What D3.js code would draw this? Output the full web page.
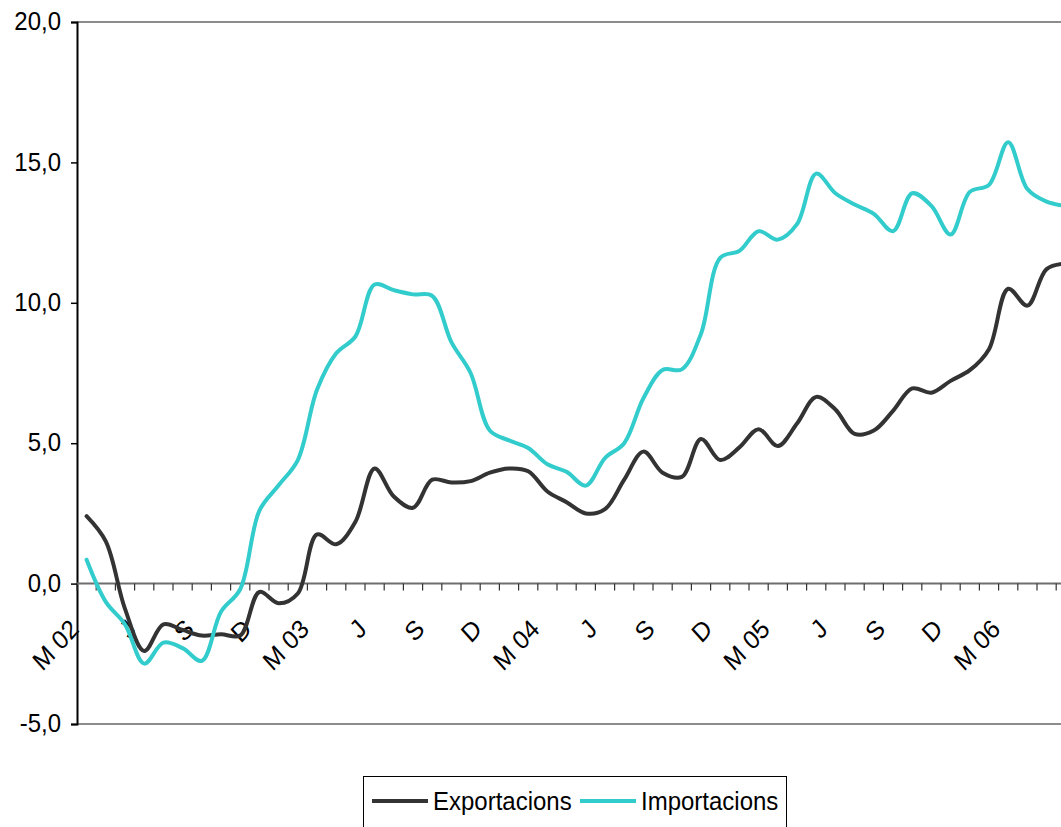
<!DOCTYPE html>
<html>
<head>
<meta charset="utf-8">
<script src="https://cdn.jsdelivr.net/npm/d3@7"></script>
<style>
  html, body { margin: 0; padding: 0; background: #fff; overflow: hidden; }
  svg { display: block; font-family: "Liberation Sans", Arial, sans-serif; }
</style>
</head>
<body>
<svg id="chart" width="1061" height="827"></svg>
<script>
// ---- data ----
const tickLabels = [
  "M 02","","","J","","","S","","","D","","",
  "M 03","","","J","","","S","","","D","","",
  "M 04","","","J","","","S","","","D","","",
  "M 05","","","J","","","S","","","D","","",
  "M 06","","",""
];
const exportacions = [
  2.4, 1.5, -0.9, -2.4, -1.45, -1.65, -1.85, -1.8, -1.85, -0.3, -0.7, -0.35,
  1.75, 1.4, 2.2, 4.1, 3.1, 2.7, 3.7, 3.6, 3.65, 3.95, 4.1, 4.0,
  3.28, 2.9, 2.5, 2.65, 3.7, 4.7, 3.95, 3.8, 5.15, 4.4, 4.85, 5.5,
  4.9, 5.7, 6.65, 6.2, 5.33, 5.45, 6.15, 6.95, 6.8, 7.22, 7.6, 8.35,
  10.5, 9.9, 11.2, 11.4
];
const importacions = [
  0.85, -0.65, -1.45, -2.85, -2.1, -2.3, -2.75, -1.0, -0.2, 2.6, 3.5, 4.4,
  6.9, 8.2, 8.8, 10.65, 10.45, 10.3, 10.25, 8.6, 7.5, 5.45, 5.1, 4.83,
  4.25, 3.98, 3.49, 4.47, 5.0, 6.6, 7.61, 7.63, 8.9, 11.6, 11.85, 12.55,
  12.25, 12.8, 14.6, 13.9, 13.5, 13.17, 12.55, 13.9, 13.45, 12.43, 13.95, 14.2,
  15.72, 14.05, 13.6, 13.45
];
const yTicks = [-5, 0, 5, 10, 15, 20];
const seriesNames = ["Exportacions", "Importacions"];
const seriesColors = ["#333333", "#33CCCC"];

// ---- layout ----
const svg = d3.select("#chart");
const plotLeft = 77, bandW = 19.2;
const plotRight = plotLeft + bandW * tickLabels.length;
const plotTop = 22, plotBottom = 724;
const FONT = 24;
const STRETCH = 1.1;

const x = d3.scaleBand().domain(d3.range(tickLabels.length)).range([plotLeft, plotRight]).padding(0);
const y = d3.scaleLinear().domain([-5, 20]).range([plotBottom, plotTop]);
const cx = i => x(i) + x.bandwidth() / 2;

// plot border (top & bottom)
svg.append("line").attr("x1", plotLeft).attr("x2", plotRight).attr("y1", y(20)).attr("y2", y(20))
  .attr("stroke", "#8c8c8c").attr("stroke-width", 2);
svg.append("line").attr("x1", plotLeft).attr("x2", plotRight).attr("y1", y(-5)).attr("y2", y(-5))
  .attr("stroke", "#8c8c8c").attr("stroke-width", 2);

// y axis
const yAxis = d3.axisLeft(y).tickValues(yTicks).tickSize(6).tickPadding(10)
  .tickFormat(d => d.toFixed(1).replace(".", ","));
const gy = svg.append("g").attr("transform", `translate(${plotLeft},0)`).call(yAxis);
gy.select(".domain").attr("stroke", "#000").attr("stroke-width", 2);
gy.selectAll(".tick line").attr("stroke", "#000").attr("stroke-width", 1.5);
gy.selectAll(".tick text").attr("font-size", FONT).attr("fill", "#000")
  .attr("font-family", "Liberation Sans, Arial, sans-serif")
  .attr("dy", "0.29em")
  .attr("transform", `scale(1,${STRETCH})`);

// x axis at zero
const y0 = y(0);
svg.append("line").attr("x1", plotLeft).attr("x2", plotRight).attr("y1", y0).attr("y2", y0)
  .attr("stroke", "#6e6e6e").attr("stroke-width", 2);
const edges = d3.range(tickLabels.length + 1).map(j => j < tickLabels.length ? x(j) : plotRight);
svg.append("g").selectAll("line").data(edges).join("line")
  .attr("x1", d => d).attr("x2", d => d).attr("y1", y0).attr("y2", y0 + 7)
  .attr("stroke", "#333").attr("stroke-width", 1.2);

svg.append("g").selectAll("text").data(tickLabels.map((t, i) => ({t, i})).filter(d => d.t))
  .join("text")
  .attr("transform", d => `translate(${cx(d.i) - 6.5},${y0 + 47}) scale(1,${STRETCH}) rotate(-45)`)
  .attr("text-anchor", "end")
  .attr("font-size", FONT).attr("fill", "#000")
  .text(d => d.t);

// clip
svg.append("clipPath").attr("id", "plotclip").append("rect")
  .attr("x", plotLeft).attr("y", plotTop - 5).attr("width", plotRight - plotLeft).attr("height", plotBottom - plotTop + 10);

const line = d3.line().x((d, i) => cx(i)).y(d => y(d)).curve(d3.curveCatmullRom.alpha(0.5));
const gl = svg.append("g").attr("clip-path", "url(#plotclip)");
[exportacions, importacions].forEach((s, k) => {
  gl.append("path").datum(s).attr("d", line).attr("fill", "none")
    .attr("stroke", seriesColors[k]).attr("stroke-width", 4)
    .attr("stroke-linejoin", "round").attr("stroke-linecap", "round");
});

// legend
const lg = svg.append("g");
lg.append("rect").attr("x", 363.5).attr("y", 776.5).attr("width", 423).attr("height", 70)
  .attr("fill", "#fff").attr("stroke", "#000").attr("stroke-width", 1);
const legX = [372, 580];
seriesNames.forEach((n, k) => {
  lg.append("line").attr("x1", legX[k]).attr("x2", legX[k] + 56).attr("y1", 801).attr("y2", 801)
    .attr("stroke", seriesColors[k]).attr("stroke-width", 4);
  lg.append("text").attr("transform", `translate(${legX[k] + 61},810) scale(1,${STRETCH})`)
    .attr("font-size", FONT).attr("fill", "#000").text(n);
});
</script>
</body>
</html>
